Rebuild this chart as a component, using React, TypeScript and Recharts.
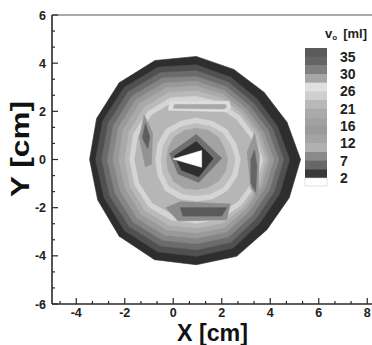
import React from 'react';
import { ScatterChart, Scatter, XAxis, YAxis, ReferenceLine } from 'recharts';

// contour plot of v_o over the cross-section, drawn as stacked filled bands
// (outer band first, each following band painted on top of it)

const CENTER_X = 0.95;
const CENTER_Y = 0;

// radii (cm) of each band boundary, read at these angles (deg, ccw from +X)
const ANGLES = [0, 22.5, 45, 67.5, 90, 112.5, 135, 157.5, 180, 202.5, 225, 247.5, 270, 292.5, 315, 337.5];

const EDGE = [4.3, 4.05, 3.95, 4.05, 4.28, 4.45, 4.5, 4.45, 4.4, 4.4, 4.5, 4.5, 4.37, 4.35, 4.12, 4.15];
const BAND_2 = [3.85, 3.62, 3.55, 3.7, 3.93, 4.15, 4.22, 4.18, 4.15, 4.12, 4.18, 4.15, 4.02, 3.98, 3.72, 3.72];
const BAND_3 = [3.6, 3.4, 3.33, 3.47, 3.68, 3.9, 3.97, 3.93, 3.9, 3.87, 3.92, 3.88, 3.75, 3.72, 3.48, 3.48];
const BAND_4 = [3.4, 3.2, 3.13, 3.27, 3.45, 3.66, 3.74, 3.7, 3.67, 3.63, 3.68, 3.63, 3.5, 3.48, 3.27, 3.27];
const BAND_5 = [3.2, 3.0, 2.95, 3.08, 3.25, 3.44, 3.52, 3.48, 3.44, 3.4, 3.45, 3.4, 3.27, 3.26, 3.07, 3.07];
const BAND_6 = [3.02, 2.85, 2.8, 2.92, 3.05, 3.22, 3.3, 3.26, 3.2, 3.17, 3.22, 3.17, 3.05, 3.05, 2.9, 2.9];
const BAND_7 = [2.88, 2.72, 2.68, 2.75, 2.85, 3.0, 3.05, 3.0, 2.95, 2.95, 3.0, 2.95, 2.85, 2.85, 2.78, 2.8];
const OUTER_RIDGE = [2.75, 2.6, 2.55, 2.58, 2.62, 2.78, 2.82, 2.8, 2.75, 2.75, 2.78, 2.72, 2.65, 2.68, 2.65, 2.68];
const VALLEY = [2.55, 2.4, 2.33, 2.36, 2.4, 2.55, 2.6, 2.58, 2.54, 2.54, 2.55, 2.48, 2.42, 2.46, 2.44, 2.48];
const INNER_RIDGE = [1.82, 1.77, 1.77, 1.72, 1.72, 1.72, 1.77, 1.72, 1.68, 1.72, 1.82, 1.77, 1.72, 1.77, 1.82, 1.82];
const INNER_1 = [1.6, 1.55, 1.55, 1.5, 1.5, 1.5, 1.53, 1.48, 1.45, 1.5, 1.58, 1.54, 1.5, 1.55, 1.6, 1.6];
const INNER_2 = [1.3, 1.25, 1.3, 1.3, 1.3, 1.3, 1.3, 1.25, 1.22, 1.25, 1.3, 1.3, 1.25, 1.25, 1.28, 1.3];

// spots inside the valley, vertices in cm
const LEFT_STREAK = [[-1.2, 1.85], [-0.85, 1.1], [-0.9, -0.2], [-1.15, -0.3], [-1.4, 0.9]];
const LEFT_CORE = [[-1.15, 1.5], [-0.97, 0.95], [-1.05, 0.45], [-1.27, 0.9]];
const RIGHT_STREAK = [[3.35, 1.1], [3.55, 0.2], [3.5, -1.6], [3.2, -1.2], [3.05, 0.3]];
const RIGHT_CORE = [[3.35, 0.4], [3.45, -0.3], [3.4, -1.35], [3.2, -1.0], [3.2, 0.0]];
const BOTTOM_BAND = [[-0.3, -2.0], [0.3, -1.75], [2.35, -1.85], [2.2, -2.5], [0.2, -2.55]];
const BOTTOM_CORE = [[0.3, -2.0], [2.2, -2.0], [2.0, -2.35], [0.4, -2.35]];
const TOP_LIGHT = [[-0.15, 2.42], [2.3, 2.42], [2.38, 2.15], [2.2, 1.98], [-0.2, 2.05]];
const TOP_STRIPE = [[0.05, 2.28], [2.15, 2.28], [2.2, 2.18], [2.1, 2.1], [0.0, 2.13]];

// the hole in the middle
const HOLE_RING = [[0.95, 1.05], [-0.15, 0.25], [0.2, -0.6], [1.05, -0.95], [2.0, 0.05]];
const HOLE_DARK = [[0.95, 0.75], [0.05, 0.15], [0.35, -0.45], [1.05, -0.72], [1.65, 0.05]];
const HOLE_EMPTY = [[0.0, 0.02], [1.17, 0.37], [1.17, -0.32]];

const X_LABELS = [-4, -2, 0, 2, 4, 6, 8];
const Y_LABELS = [-6, -4, -2, 0, 2, 4, 6];
const LEGEND_LABELS = ['35', '30', '26', '21', '16', '12', '7', '2'];
const LEGEND_COLORS = [
  '#5a5a5a', '#646464', '#7f7f7f', '#a6a6a6', '#e0e0e0',
  '#cfcfcf', '#b9b9b9', '#aaaaaa', '#a1a1a1', '#9b9b9b',
  '#a4a4a4', '#b0b0b0', '#8a8a8a', '#676767', '#383838',
];

const ring = (radii: number[]) =>
  radii.map((r, i) => ({
    x: CENTER_X + r * Math.cos((ANGLES[i] * Math.PI) / 180),
    y: CENTER_Y + r * Math.sin((ANGLES[i] * Math.PI) / 180),
  }));

const poly = (pts: number[][]) => pts.map(([x, y]) => ({ x, y }));

const LAYERS = [
  { data: ring(EDGE), color: '#2e2e2e' },
  { data: ring(BAND_2), color: '#505050' },
  { data: ring(BAND_3), color: '#6b6b6b' },
  { data: ring(BAND_4), color: '#858585' },
  { data: ring(BAND_5), color: '#999999' },
  { data: ring(BAND_6), color: '#a9a9a9' },
  { data: ring(BAND_7), color: '#b9b9b9' },
  { data: ring(OUTER_RIDGE), color: '#d4d4d4' },
  { data: ring(VALLEY), color: '#b6b6b6' },
  { data: poly(LEFT_STREAK), color: '#939393' },
  { data: poly(LEFT_CORE), color: '#5e5e5e' },
  { data: poly(RIGHT_STREAK), color: '#969696' },
  { data: poly(RIGHT_CORE), color: '#666666' },
  { data: poly(BOTTOM_BAND), color: '#8c8c8c' },
  { data: poly(BOTTOM_CORE), color: '#5a5a5a' },
  { data: poly(TOP_LIGHT), color: '#dddddd' },
  { data: poly(TOP_STRIPE), color: '#a8a8a8' },
  { data: ring(INNER_RIDGE), color: '#d4d4d4' },
  { data: ring(INNER_1), color: '#bdbdbd' },
  { data: ring(INNER_2), color: '#a3a3a3' },
  { data: poly(HOLE_RING), color: '#707070' },
  { data: poly(HOLE_DARK), color: '#2e2e2e' },
  { data: poly(HOLE_EMPTY), color: '#ffffff' },
];

// major ticks at the labels, two minor ticks in between each pair
const withMinor = (labels: number[], from: number, to: number) => {
  const out: number[] = [];
  const step = (labels[1] - labels[0]) / 3;
  for (let v = from; v <= to + 1e-9; v += step) out.push(Math.round(v * 1000) / 1000);
  return out;
};
const X_TICKS = withMinor(X_LABELS, -4 - 2 * ((X_LABELS[1] - X_LABELS[0]) / 3), 9);
const Y_TICKS = withMinor(Y_LABELS, -6, 6);

const isLabel = (list: number[], v: number) => list.some((l) => Math.abs(l - v) < 1e-6);

const FONT = '"Liberation Sans", Arial, Helvetica, sans-serif';
const AXIS = '#2a2a2a';

const XTick = (props: any) => {
  const { x, y, payload } = props;
  const major = isLabel(X_LABELS, payload.value);
  return (
    <g>
      <line x1={x} x2={x} y1={y} y2={y - (major ? 6 : 3)} stroke={AXIS} strokeWidth={1.2} />
      {major && (
        <text x={x} y={y + 13} textAnchor="middle" fontFamily={FONT} fontWeight="bold" fontSize={12.5} fill="#222">
          {String(payload.value)}
        </text>
      )}
    </g>
  );
};

const YTick = (props: any) => {
  const { x, y, payload } = props;
  const major = isLabel(Y_LABELS, payload.value);
  return (
    <g>
      <line x1={x} x2={x + (major ? 6 : 3)} y1={y} y2={y} stroke={AXIS} strokeWidth={1.2} />
      {major && (
        <text x={x - 6} y={y + 4.5} textAnchor="end" fontFamily={FONT} fontWeight="bold" fontSize={12.5} fill="#222">
          {String(payload.value)}
        </text>
      )}
    </g>
  );
};

const ColorBar = () => {
  const top = 48;
  const cell = 130 / LEGEND_COLORS.length;
  return (
    <svg width={372} height={345} style={{ position: 'absolute', left: 0, top: 0, pointerEvents: 'none' }}>
      <text x={325} y={38} fontFamily={FONT} fontWeight="bold" fontSize={13} fill="#222">
        v<tspan fontSize={8} dy={2}>o</tspan>
        <tspan dx={6} dy={-2}>[ml]</tspan>
      </text>
      {LEGEND_COLORS.map((c, i) => (
        <rect key={i} x={305} y={top + i * cell} width={22} height={cell + 0.5} fill={c} />
      ))}
      <rect x={305} y={top + 130} width={22} height={8} fill="#ffffff" stroke="#d0d0d0" strokeWidth={0.6} />
      {LEGEND_LABELS.map((l, i) => (
        <text key={l} x={340} y={top + cell * (1 + 2 * i) + 5} fontFamily={FONT} fontWeight="bold" fontSize={14} fill="#222">
          {l}
        </text>
      ))}
      <text
        transform="translate(29,197) rotate(-90)"
        fontFamily={FONT}
        fontWeight="bold"
        fontSize={25}
        fill="#111"
        textLength={96}
        lengthAdjust="spacingAndGlyphs"
      >
        Y [cm]
      </text>
      <text x={177} y={341} fontFamily={FONT} fontWeight="bold" fontSize={23} fill="#111" textLength={71} lengthAdjust="spacingAndGlyphs">
        X [cm]
      </text>
    </svg>
  );
};

export default function App() {
  return (
    <div style={{ position: 'fixed', left: 0, top: 0, width: 372, height: 345, overflow: 'hidden', background: '#fff' }}>
      <ScatterChart width={400} height={345} margin={{ top: 15, right: 8.5, bottom: 0, left: 0 }}>
        <XAxis
          type="number"
          dataKey="x"
          domain={[-5, 9]}
          ticks={X_TICKS}
          interval={0}
          allowDataOverflow
          height={41}
          tickLine={false}
          tickSize={0}
          tickMargin={0}
          tick={<XTick />}
          axisLine={{ stroke: AXIS, strokeWidth: 1.6 }}
        />
        <YAxis
          type="number"
          dataKey="y"
          domain={[-6, 6]}
          ticks={Y_TICKS}
          interval={0}
          allowDataOverflow
          width={52}
          tickLine={false}
          tickSize={0}
          tickMargin={0}
          tick={<YTick />}
          axisLine={{ stroke: AXIS, strokeWidth: 1.6 }}
        />
        <ReferenceLine y={6} stroke="#555" strokeWidth={1.2} />
        {LAYERS.map((layer, i) => (
          <Scatter
            key={i}
            data={layer.data}
            fill={layer.color}
            line={{ fill: layer.color, stroke: layer.color, strokeWidth: 0.6 }}
            lineJointType="linearClosed"
            shape={() => <g />}
            isAnimationActive={false}
          />
        ))}
      </ScatterChart>
      <ColorBar />
    </div>
  );
}
